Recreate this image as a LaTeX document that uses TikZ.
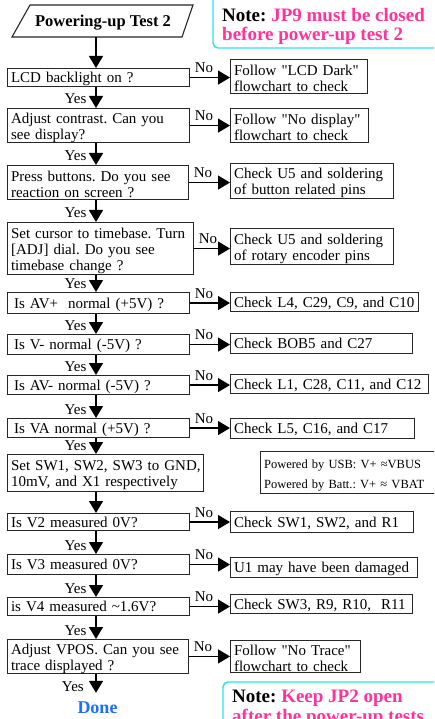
\documentclass[tikz,border=0pt]{standalone}
\usepackage{fontspec}
\setmainfont{Liberation Serif}
\usetikzlibrary{arrows.meta}
\definecolor{notepink}{RGB}{255,51,153}
\definecolor{notecyan}{RGB}{40,228,232}
\definecolor{doneblue}{RGB}{30,110,255}
\newcommand\mainfs{\fontsize{15}{16}\selectfont}
\newcommand\infofs{\fontsize{12.5}{20}\selectfont}
\newcommand\notefs{\fontsize{19}{19.5}\selectfont\bfseries}
\newcommand\titlefs{\fontsize{16.5}{18}\selectfont\bfseries}
\newcommand\donefs{\fontsize{18}{20}\selectfont\bfseries}
\newcommand\qq{\textquotedbl}
\frenchspacing
\begin{document}
\begin{tikzpicture}[x=1pt,y=-1pt,
  box/.style={draw=black!85, line width=1.1pt, anchor=north west, inner xsep=3.5pt, inner ysep=0pt, align=left, font=\mainfs},
  one/.style={box, text height=10pt, text depth=0pt},
  two/.style={box, text height=14.5pt},
  arr/.style={line width=1.3pt, -{Triangle[length=12pt,width=14pt]}},
  nolbl/.style={font=\mainfs, anchor=south west, inner sep=0pt, xshift=4pt, yshift=4pt},
  yeslbl/.style={font=\mainfs, anchor=base east, inner sep=0pt, xshift=-9pt, yshift=4pt},
  notebox/.style={draw=notecyan, line width=1.4pt, rounded corners=5pt},
  notetext/.style={font=\notefs, align=left, inner sep=0pt, anchor=north west}
]
\clip (0,0) rectangle (434,719);
\fill[white] (0,0) rectangle (434,719);
\coordinate (col) at (96,0);

% title
\draw[line width=1.1pt, black!85] (12,37) -- (30,5) -- (193,5) -- (182,37) -- cycle;
\node[font=\titlefs, inner sep=0pt, text height=11pt, text depth=0pt] (title) at (103,21.5) {Powering-up Test 2};
\coordinate (tbot) at (96,37);

% notes
\draw[notebox] (213,-15) rectangle (470,48);
\node[notetext] (note1) at (222,8) {Note: \textcolor{notepink}{JP9 must be closed}\\\textcolor{notepink}{before power-up test 2}};
\draw[notebox] (223,682) rectangle (470,760);
\node[notetext] (note2) at (232,690) {Note: \textcolor{notepink}{Keep JP2 open}\\\textcolor{notepink}{after the power-up tests}};

% question boxes
\node[one, text width=175pt, minimum height=18pt] (q1) at (7,68) {LCD backlight on ?};
\node[two, text width=175pt, minimum height=34pt] (q2) at (7,108) {Adjust contrast. Can you\\see display?};
\node[two, text width=174pt, minimum height=34pt] (q3) at (7,165) {Press buttons. Do you see\\reaction on screen ?};
\node[two, text width=179pt, minimum height=52pt] (q4) at (7,222) {Set cursor to timebase. Turn\\{}[ADJ] dial. Do you see\\timebase change ?};
\node[one, text width=175pt, minimum height=21pt] (q5) at (7,292) {\hspace*{3pt}Is AV+\ \ normal (+5V) ?};
\node[one, text width=175pt, minimum height=20pt] (q6) at (7,334) {\hspace*{3pt}Is V- normal (-5V) ?};
\node[one, text width=175pt, minimum height=19pt] (q7) at (7,375) {\hspace*{3pt}Is AV- normal (-5V) ?};
\node[one, text width=175pt, minimum height=19pt] (q8) at (7,418) {\hspace*{3pt}Is VA normal (+5V) ?};
\node[two, text width=189pt, minimum height=37pt] (q9) at (7,454) {\mbox{Set SW1, SW2, SW3 to GND,}\\10mV, and X1 respectively};
\node[one, text width=175pt, minimum height=17pt] (q10) at (7,513) {Is V2 measured 0V?};
\node[one, text width=175pt, minimum height=20pt] (q11) at (7,554) {Is V3 measured 0V?};
\node[one, text width=175pt, minimum height=18pt] (q12) at (7,597) {is V4 measured \textasciitilde1.6V?};
\node[two, text width=174pt, minimum height=33pt] (q13) at (7,639) {Adjust VPOS. Can you see\\trace displayed ?};

% result boxes
\node[two, text width=130pt, minimum height=34pt] (r1) at (230,59) {Follow \qq LCD Dark\qq\\flowchart to check};
\node[two, text width=131pt, minimum height=34pt] (r2) at (230,108) {Follow \qq No display\qq\\flowchart to check};
\node[two, text width=156pt, minimum height=35pt] (r3) at (230,163) {Check U5 and soldering\\of button related pins};
\node[two, text width=156pt, minimum height=36pt] (r4) at (230,228) {Check U5 and soldering\\of rotary encoder pins};
\node[one, text width=181pt, minimum height=19pt] (r5) at (230,292) {Check L4, C29, C9, and C10};
\node[one, text width=175pt, minimum height=20pt] (r6) at (230,333) {Check BOB5 and C27};
\node[one, text width=191pt, minimum height=19pt] (r7) at (230,374) {Check L1, C28, C11, and C12};
\node[one, text width=177pt, minimum height=20pt] (r8) at (230,418) {Check L5, C16, and C17};
\node[one, text width=176pt, minimum height=21pt] (r10) at (230,511) {Check SW1, SW2, and R1};
\node[one, text width=180pt, minimum height=20pt] (r11) at (230,557) {U1 may have been damaged};
\node[one, text width=175pt, minimum height=19pt] (r12) at (230,594) {Check SW3, R9, R10,\ \ R11};
\node[two, text width=123pt, minimum height=32pt] (r13) at (230,640) {Follow \qq No Trace\qq\\flowchart to check};

% info box
\node[box, font=\infofs, text height=14pt, text width=183pt, minimum height=42pt] (info) at (260,451) {Powered by USB: V+ ≈VBUS\\Powered by Batt.: V+ ≈ VBAT};

% done
\node[font=\donefs, text=doneblue, inner sep=0pt, text height=12pt, text depth=0pt] (done) at (97.5,707.5) {Done};

% vertical arrows
\draw[arr] (tbot) -- (q1.north -| col);
\draw[arr] (q1.south -| col) -- (q2.north -| col) node[yeslbl, pos=1] (y1) {Yes};
\draw[arr] (q2.south -| col) -- (q3.north -| col) node[yeslbl, pos=1] (y2) {Yes};
\draw[arr] (q3.south -| col) -- (q4.north -| col) node[yeslbl, pos=1] (y3) {Yes};
\draw[arr] (q4.south -| col) -- (q5.north -| col) node[yeslbl, pos=1] (y4) {Yes};
\draw[arr] (q5.south -| col) -- (q6.north -| col) node[yeslbl, pos=1] (y5) {Yes};
\draw[arr] (q6.south -| col) -- (q7.north -| col) node[yeslbl, pos=1] (y6) {Yes};
\draw[arr] (q7.south -| col) -- (q8.north -| col) node[yeslbl, pos=1] (y7) {Yes};
\draw[arr] (q8.south -| col) -- (q9.north -| col) node[yeslbl, pos=1] (y8) {Yes};
\draw[arr] (q9.south -| col) -- (q10.north -| col);
\draw[arr] (q10.south -| col) -- (q11.north -| col) node[yeslbl, pos=1] (y10) {Yes};
\draw[arr] (q11.south -| col) -- (q12.north -| col) node[yeslbl, pos=1] (y11) {Yes};
\draw[arr] (q12.south -| col) -- (q13.north -| col) node[yeslbl, pos=1] (y12) {Yes};
\draw[arr, shorten >=8.5pt] (q13.south -| col) -- (done.north -| col);
\node[font=\mainfs, anchor=base east, inner sep=0pt] (y13) at (84,691) {Yes};

% horizontal arrows
\foreach \q/\r in {q1/r1,q2/r2,q3/r3,q4/r4,q5/r5,q6/r6,q7/r7,q8/r8,q10/r10,q11/r11,q12/r12,q13/r13}{
  \draw[arr] (\q.east) -- (\q.east -| \r.west) node[nolbl, pos=0] (no\q) {No};
}
\end{tikzpicture}
\end{document}
